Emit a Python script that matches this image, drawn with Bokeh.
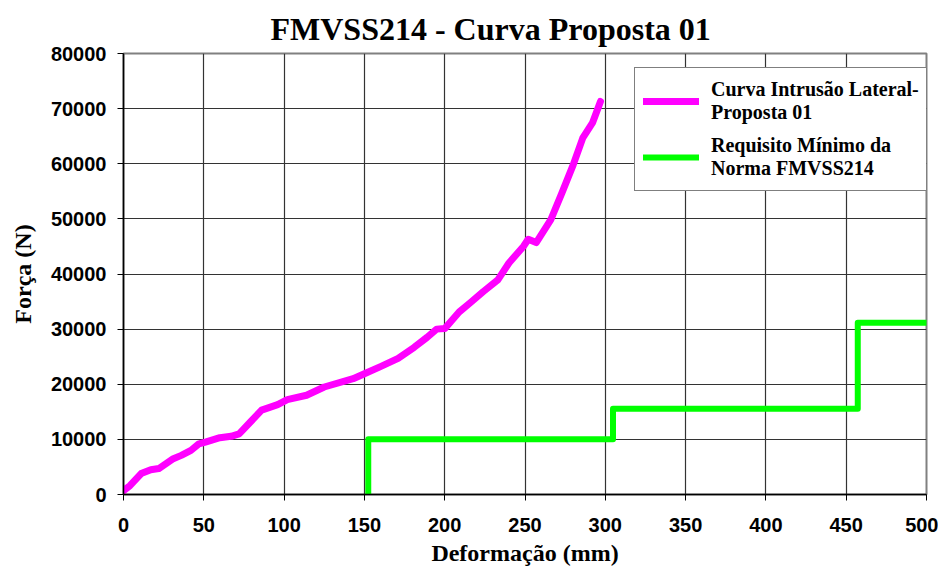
from bokeh.plotting import figure
from bokeh.models import Legend, LegendItem, Range1d, FixedTicker, NumeralTickFormatter
from bokeh.embed import file_html
from bokeh.resources import INLINE

# Curva Intrusão Lateral - Proposta 01
curve_x = [0, 4, 11, 17, 22, 31, 36, 42, 47, 51, 60, 67, 72, 79, 86, 96, 102, 114, 125, 143, 150,
           160, 171, 181, 189, 195, 200, 209, 216, 224, 233, 240, 249, 252, 257, 266, 273, 280, 286, 292, 297]
curve_y = [700, 1600, 3800, 4500, 4700, 6500, 7100, 8000, 9200, 9500, 10300, 10550, 11000, 13150, 15300,
           16300, 17200, 18000, 19500, 21000, 21900, 23200, 24700, 26700, 28500, 30000, 30100, 33100, 34800,
           36800, 38900, 42000, 45000, 46300, 45700, 49800, 54700, 59800, 64700, 67400, 71300]

# Requisito Mínimo da Norma FMVSS214
req_x = [152.4, 152.4, 304.8, 304.8, 457.2, 457.2, 500]
req_y = [0, 10008, 10008, 15569, 15569, 31138, 31138]

x_ticks = [0, 50, 100, 150, 200, 250, 300, 350, 400, 450, 500]
y_ticks = [0, 10000, 20000, 30000, 40000, 50000, 60000, 70000, 80000]

p = figure(width=938, height=573, output_backend="svg", toolbar_location=None,
           x_range=Range1d(0, 500), y_range=Range1d(0, 80000),
           min_border_left=123, min_border_right=12, min_border_top=53, min_border_bottom=79)

p.title.text = "FMVSS214 - Curva Proposta 01"
p.title.align = "left"
p.title.offset = 147
p.title.standoff = 14
p.title.text_font = "Liberation Serif"
p.title.text_font_style = "bold"
p.title.text_font_size = "32px"
p.title.text_color = "black"

p.outline_line_color = "#808080"
p.outline_line_width = 2
p.background_fill_color = "white"
p.border_fill_color = "white"

for ax in (p.xaxis[0], p.yaxis[0]):
    ax.axis_line_color = "black"
    ax.axis_line_width = 1.5
    ax.major_tick_line_color = "black"
    ax.major_tick_out = 6
    ax.major_tick_in = 0
    ax.minor_tick_line_color = None
    ax.major_label_text_font = "Liberation Sans"
    ax.major_label_text_font_style = "bold"
    ax.major_label_text_font_size = "20px"
    ax.major_label_text_color = "black"
    ax.axis_label_text_font = "Liberation Serif"
    ax.axis_label_text_font_style = "bold"
    ax.axis_label_text_font_size = "24px"
    ax.axis_label_text_color = "black"

p.xaxis[0].ticker = FixedTicker(ticks=x_ticks)
p.yaxis[0].ticker = FixedTicker(ticks=y_ticks)
p.yaxis[0].formatter = NumeralTickFormatter(format="0")
p.xaxis[0].axis_label = "Deformação (mm)"
p.yaxis[0].axis_label = "Força (N)"
p.xaxis[0].major_label_standoff = 17
p.yaxis[0].major_label_standoff = 11
p.xaxis[0].axis_label_standoff = 5
p.yaxis[0].axis_label_standoff = 12

p.xgrid.ticker = FixedTicker(ticks=x_ticks)
p.ygrid.ticker = FixedTicker(ticks=y_ticks)
p.grid.grid_line_color = "#333333"
p.grid.grid_line_width = 1.2

r1 = p.line(curve_x, curve_y, line_color="#ff00ff", line_width=7, line_cap="round", line_join="round")
r2 = p.line(req_x, req_y, line_color="#00ff00", line_width=6, line_cap="round", line_join="round")

legend = Legend(items=[
    LegendItem(label="Curva Intrusão Lateral-\nProposta 01", renderers=[r1]),
    LegendItem(label="Requisito Mínimo da\nNorma FMVSS214", renderers=[r2]),
], location=(511, 303))
legend.label_text_font = "Liberation Serif"
legend.label_text_font_style = "bold"
legend.label_text_font_size = "20px"
legend.label_text_color = "black"
legend.border_line_color = "black"
legend.border_line_width = 1
legend.background_fill_alpha = 1
legend.glyph_width = 56
legend.glyph_height = 24
legend.label_height = 50
legend.label_standoff = 12
legend.spacing = 6
legend.padding = 8
legend.margin = 0
p.add_layout(legend)

open("out.html", "w").write(file_html(p, INLINE))
